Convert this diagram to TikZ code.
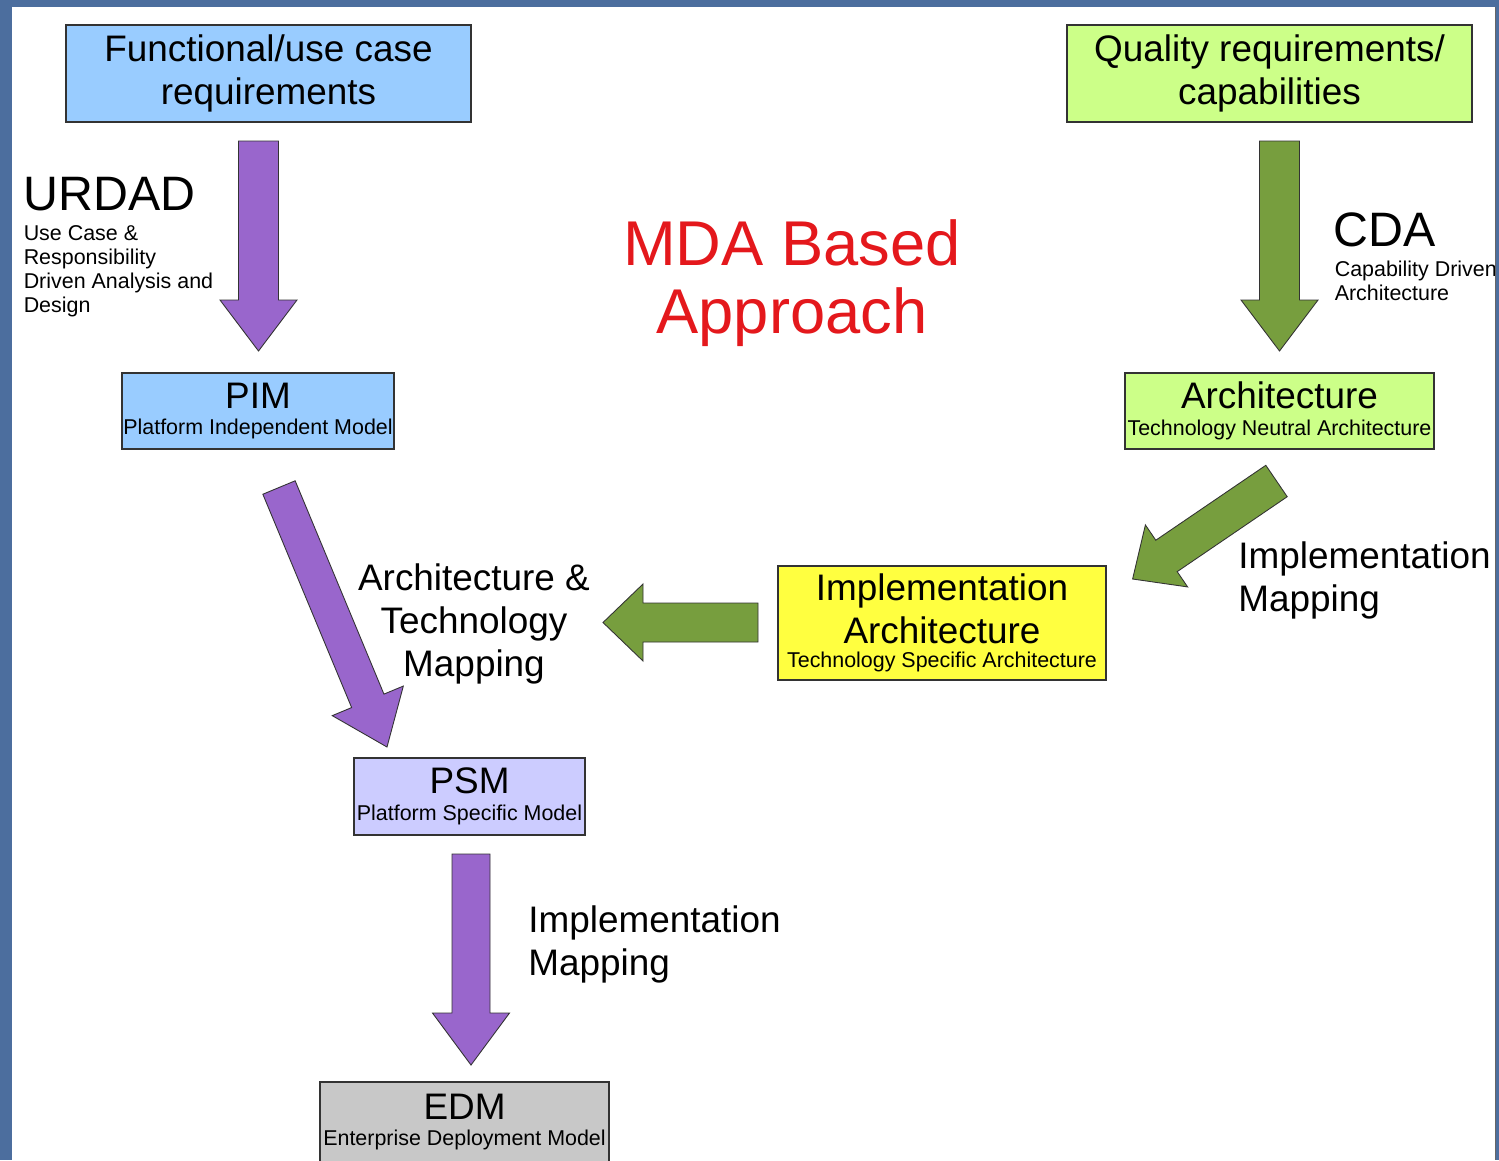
\documentclass[tikz,border=0pt]{standalone}
\usepackage{fontspec}
\setmainfont{Liberation Sans}
\usetikzlibrary{calc}

\definecolor{bgblue}{RGB}{76,110,158}
\definecolor{funcblue}{RGB}{153,204,255}
\definecolor{qualgreen}{RGB}{204,255,136}
\definecolor{implyellow}{RGB}{255,255,64}
\definecolor{psmlilac}{RGB}{204,204,255}
\definecolor{edmgray}{RGB}{200,200,200}
\definecolor{mdapurple}{RGB}{153,102,204}
\definecolor{mdagreen}{RGB}{119,158,62}
\definecolor{mdared}{RGB}{228,24,28}

\newcommand\bigtxt{\fontsize{21}{24.4}\selectfont}
\newcommand\hugetxt{\fontsize{27.5}{30}\selectfont}
\newcommand\smalltxt{\fontsize{12.2}{13.6}\selectfont}
\newcommand\titletxt{\fontsize{36}{38.5}\selectfont}

\tikzset{
    shaftw/.store in=\shaftw, shaftw=4mm,
    headw/.store in=\headw, headw=7.7mm,
    headl/.store in=\headl, headl=10.2mm,
    fat/.style={draw=black!80, line width=0.5pt,
        to path={($(\tikztotarget)!\headl!(\tikztostart)$) coordinate (fath)
            ($(\tikztostart)!\shaftw!90:(\tikztotarget)$)
            -- ($(fath)!\shaftw!90:(\tikztotarget)$)
            -- ($(fath)!\headw!90:(\tikztotarget)$)
            -- (\tikztotarget)
            -- ($(fath)!\headw!-90:(\tikztotarget)$)
            -- ($(fath)!\shaftw!-90:(\tikztotarget)$)
            -- ($(\tikztostart)!\shaftw!-90:(\tikztotarget)$)
            -- cycle}},
}

\begin{document}
\begin{tikzpicture}[x=0.2mm, y=-0.2mm,
    box/.style={draw=black!80, line width=0.7pt, align=center, inner sep=0pt, font=\bigtxt},
    lbl/.style={inner sep=0pt, align=left}]
    \fill[bgblue] (0,0) rectangle (1499,1160);
    \fill[white] (12,7) rectangle (1495,1160);
    \useasboundingbox (0,0) rectangle (1499,1160);

    % boxes
    \node[box, fill=funcblue, minimum width=81mm, minimum height=19.4mm] (func) at (268.5,73.5) {Functional/use case\\requirements};
    \node[box, fill=qualgreen, minimum width=81mm, minimum height=19.4mm] (qual) at (1269.5,73.5) {Quality requirements/\\capabilities};
    \node[box, fill=funcblue, minimum width=54.4mm, minimum height=15.2mm] (pim) at (258,411) {PIM\\[-9.1pt]{\smalltxt Platform Independent Model}};
    \node[box, fill=qualgreen, minimum width=61.8mm, minimum height=15.2mm] (arch) at (1279.5,411) {Architecture\\[-9.1pt]{\smalltxt Technology Neutral Architecture}};
    \node[box, fill=implyellow, minimum width=65.6mm, minimum height=22.8mm] (impl) at (942,623) {Implementation\\Architecture\\[-10.8pt]{\smalltxt Technology Specific Architecture}};
    \node[box, fill=psmlilac, minimum width=46.2mm, minimum height=15.4mm] (psm) at (469.5,796.5) {PSM\\[-9.1pt]{\smalltxt Platform Specific Model}};
    \node[box, fill=edmgray, minimum width=57.8mm, minimum height=16mm] (edm) at (464.5,1122) {EDM\\[-9.1pt]{\smalltxt Enterprise Deployment Model}};

    % block arrows
    \coordinate (u1) at (258.5,141);
    \coordinate (u2) at (258.5,351);
    \coordinate (c1) at (1279.5,141);
    \coordinate (c2) at (1279.5,351);
    \coordinate (t1) at (279,487.5);
    \coordinate (t2) at (387,747);
    \coordinate (m1) at (1276.5,481);
    \coordinate (m2) at (1132.6,579);
    \coordinate (l1) at (758,622.5);
    \coordinate (l2) at (603,622.5);
    \coordinate (d1) at (471,854);
    \coordinate (d2) at (471,1065);
    \draw[fat, fill=mdapurple] (u1) to (u2);
    \draw[fat, fill=mdagreen] (c1) to (c2);
    \draw[fat, fill=mdapurple, shaftw=3.5mm, headl=10mm] (t1) to (t2);
    \draw[fat, fill=mdagreen, shaftw=3.8mm, headw=7.5mm, headl=8.2mm] (m1) to (m2);
    \draw[fat, fill=mdagreen, shaftw=3.9mm, headl=8mm] (l1) to (l2);
    \draw[fat, fill=mdapurple, shaftw=3.8mm, headl=10.4mm] (d1) to (d2);

    % labels
    \node[lbl, anchor=base west, font=\hugetxt] (urdad) at (23.3,210) {URDAD};
    \node[lbl, anchor=north west, font=\smalltxt] (urdadsub) at (23.4,225.3) {Use Case \&\\Responsibility\\Driven Analysis and\\Design};
    \node[lbl, anchor=base west, font=\hugetxt] (cda) at (1333.6,246) {CDA};
    \node[lbl, anchor=north west, font=\smalltxt] (cdasub) at (1334.4,260.3) {Capability Driven\\Architecture};
    \node[inner sep=0pt, align=center, font=\titletxt, text=mdared] (title) at (792,283) {MDA Based\\Approach};
    \node[inner sep=0pt, align=center, font=\bigtxt] (atmap) at (474,624) {Architecture \&\\Technology\\Mapping};
    \node[lbl, anchor=west, font=\bigtxt] (imap1) at (1238,580.5) {Implementation\\Mapping};
    \node[lbl, anchor=west, font=\bigtxt] (imap2) at (528,944.4) {Implementation\\Mapping};

    \fill[bgblue] (1495,0) rectangle (1499,1160);
    \draw[black!60, line width=0.4pt] (1495,7) -- (1495,1160);
\end{tikzpicture}
\end{document}
